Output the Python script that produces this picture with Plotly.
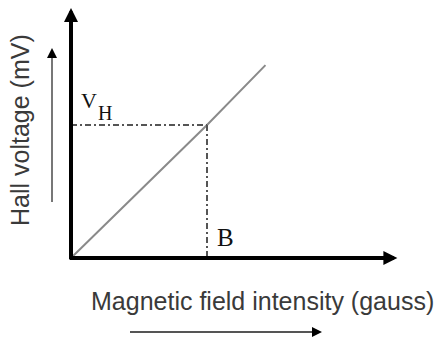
import plotly.graph_objects as go

# Linear Hall response: voltage grows in proportion to the applied field
field = [0.0, 1.0, 1.43]          # magnetic field (arbitrary units)
voltage = [0.0, 1.0, 1.45]        # Hall voltage (arbitrary units)

B_mark = 1.0                      # chosen field value B
VH_mark = 1.0                     # corresponding Hall voltage V_H

x_axis_end = 2.40                 # extent of the drawn field axis
y_axis_end = 1.88                 # extent of the drawn voltage axis

x_label = "Magnetic field intensity (gauss)"
y_label = "Hall voltage (mV)"

W, H = 441, 341
px_x, px_y = 136.0, 133.0         # pixels per unit along each axis
ox, oy = 71.0, 258.0              # pixel position of the origin


def dx(p):
    """pixel column -> data x"""
    return (p - ox) / px_x


def dy(p):
    """pixel row -> data y"""
    return (oy - p) / px_y


xr = [dx(0), dx(W)]
yr = [dy(H), dy(0)]

fig = go.Figure()

# diagonal response line
fig.add_trace(go.Scatter(
    x=field, y=voltage, mode="lines",
    line=dict(color="#8a8a8a", width=2),
    hoverinfo="skip", showlegend=False,
))

# dash-dot guides to the chosen operating point
guide = dict(color="#555555", width=2, dash="6px,3px,2px,3px")
fig.add_trace(go.Scatter(
    x=[0, B_mark], y=[VH_mark, VH_mark], mode="lines",
    line=guide, hoverinfo="skip", showlegend=False,
))
fig.add_trace(go.Scatter(
    x=[B_mark, B_mark], y=[VH_mark, 0], mode="lines",
    line=guide, hoverinfo="skip", showlegend=False,
))

ann = []
# heavy axes with arrowheads
ann.append(dict(x=x_axis_end, y=0, ax=-0.02, ay=0, xref="x", yref="y",
                axref="x", ayref="y", text="", showarrow=True,
                arrowhead=2, arrowsize=0.7, arrowwidth=4, arrowcolor="#000000"))
ann.append(dict(x=0, y=y_axis_end, ax=0, ay=-0.02, xref="x", yref="y",
                axref="x", ayref="y", text="", showarrow=True,
                arrowhead=2, arrowsize=0.7, arrowwidth=4, arrowcolor="#000000"))

# axis labels
sans = "Liberation Sans, Arial"
ann.append(dict(x=dx(262), y=dy(301), xref="x", yref="y", text=x_label,
                showarrow=False, font=dict(family=sans, size=25, color="#3a3a3a")))
ann.append(dict(x=dx(20), y=dy(130), xref="x", yref="y", text=y_label,
                showarrow=False, textangle=-90,
                font=dict(family=sans, size=25, color="#3a3a3a")))

# direction arrows beside the labels
lab_shapes = [
    dict(type="line", xref="x", yref="y",
         x0=dx(130), x1=dx(314), y0=dy(332), y1=dy(332),
         line=dict(color="#555555", width=2)),
    dict(type="line", xref="x", yref="y",
         x0=dx(52), x1=dx(52), y0=dy(202), y1=dy(56),
         line=dict(color="#777777", width=2)),
]
ann.append(dict(x=dx(322), y=dy(332), ax=-10, ay=0,
                xref="x", yref="y", text="", showarrow=True,
                arrowhead=2, arrowsize=1, arrowwidth=2, arrowcolor="#000000"))
ann.append(dict(x=dx(52), y=dy(48), ax=0, ay=10,
                xref="x", yref="y", text="", showarrow=True,
                arrowhead=2, arrowsize=1, arrowwidth=2, arrowcolor="#000000"))

# point labels: V with subscript H, and B
serif = "Liberation Serif, Times New Roman"
ann.append(dict(x=dx(80), y=dy(114), xref="x", yref="y", xanchor="left", yanchor="bottom",
                text="V", showarrow=False, borderpad=0,
                font=dict(family=serif, size=22, color="#111111")))
ann.append(dict(x=dx(97), y=dy(125), xref="x", yref="y", xanchor="left", yanchor="bottom",
                text="H", showarrow=False, borderpad=0,
                font=dict(family=serif, size=20, color="#111111")))
ann.append(dict(x=dx(215), y=dy(253), xref="x", yref="y", xanchor="left", yanchor="bottom",
                text="B", showarrow=False,
                font=dict(family=serif, size=25, color="#111111")))

fig.update_layout(
    width=W, height=H,
    margin=dict(l=0, r=0, t=0, b=0),
    paper_bgcolor="white", plot_bgcolor="white",
    xaxis=dict(range=xr, visible=False, fixedrange=True),
    yaxis=dict(range=yr, visible=False, fixedrange=True),
    annotations=ann, shapes=lab_shapes,
    showlegend=False,
)

fig.write_html("out.html", config={"displayModeBar": False})
